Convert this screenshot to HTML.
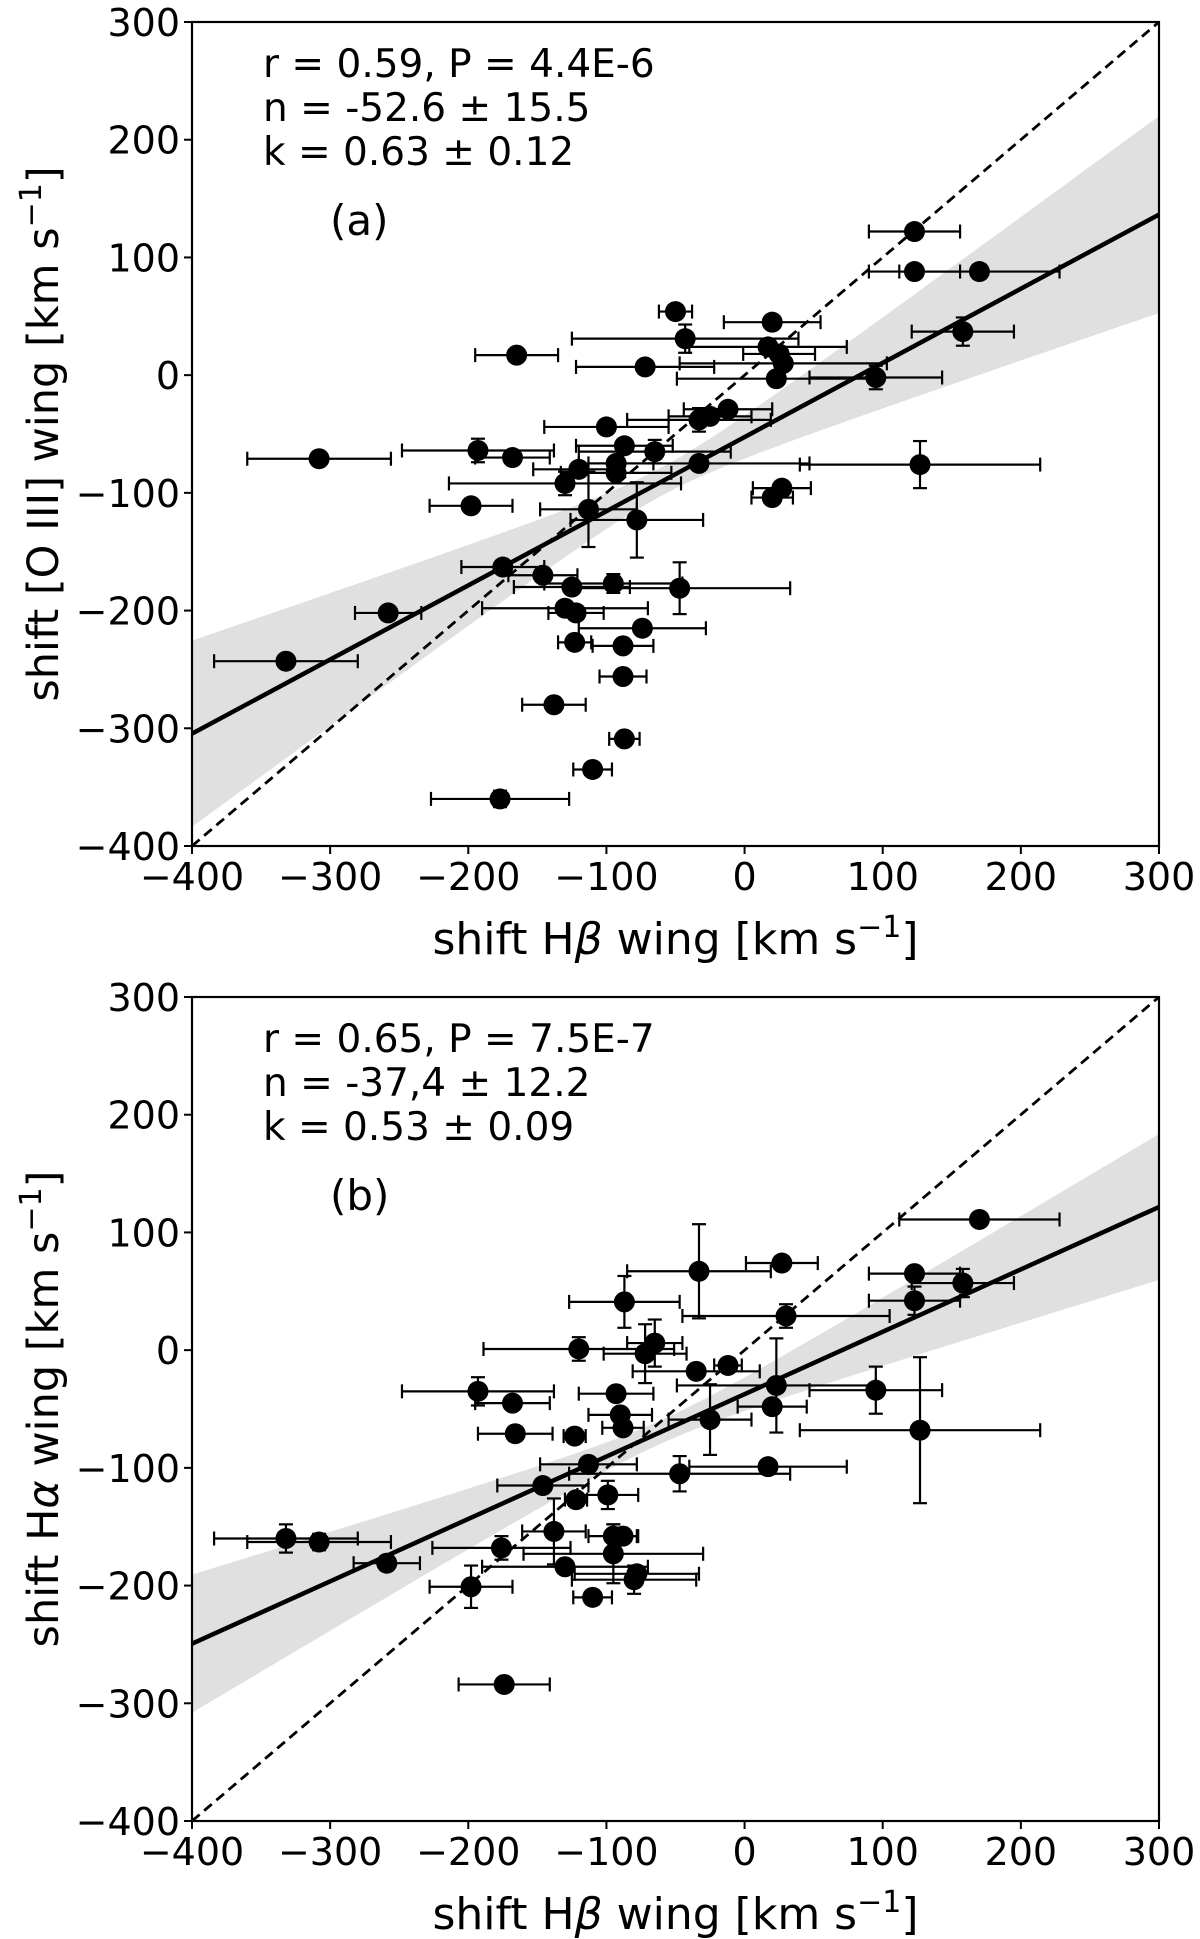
<!DOCTYPE html>
<html><head><meta charset="utf-8">
<style>
html,body{margin:0;padding:0;background:#fff;}
svg{display:block;font-family:"DejaVu Sans","Liberation Sans",sans-serif;}
</style></head>
<body>
<svg id="fig" width="1200" height="1939" viewBox="0 0 1200 1939" xmlns="http://www.w3.org/2000/svg"></svg>
<script>
// ---- Panel (a) data: Hβ wing shift vs [O III] wing shift ----
const aX    = [123,123,170,-50,20,-43,17,25,28,-165,-72,158,95,23,-12,-25,-33,-100,-87,-65,-193,-168,-308,-120,-93,-93,-33,-130,-198,127,27,20,-113,-78,-175,-146,-125,-95,-47,-130,-122,-74,-123,-88,-88,-138,-87,-110,-177,-332,-258];
const aY    = [122,88,88,54,45,31,24,18,10,17,7,37,-2,-3,-29,-35,-38,-44,-60,-65,-64,-70,-71,-80,-75,-83,-75,-92,-111,-76,-96,-104,-114,-123,-163,-170,-180,-177,-181,-198,-202,-215,-227,-230,-256,-280,-309,-335,-360,-243,-202];
const aXerr = [33,33,58,12,35,82,57,26,75,30,50,37,48,72,32,30,52,45,35,55,55,27,52,33,27,40,80,84,30,87,21,15,35,48,30,25,42,50,80,60,20,46,12,22,17,23,11,14,50,52,24];
const aYerr = [0,0,6,0,5,12,0,0,0,0,0,12,10,0,0,0,10,0,0,10,10,0,0,0,0,0,0,10,0,20,0,0,32,32,0,0,0,8,22,0,0,0,0,0,0,6,0,0,7,0,0];
// ---- Panel (b) data: Hβ wing shift vs Hα wing shift ----
const bX    = [170,27,-33,123,158,123,-87,30,-120,-65,-72,-35,-12,-193,-168,-93,23,95,-90,-88,20,-25,-166,-123,127,-113,17,-47,-146,-122,-99,-138,-332,-308,-95,-88,-176,-95,-259,-130,-78,-80,-198,-110,-174];
const bY    = [111,74,67,65,57,42,41,29,1,6,-3,-18,-13,-35,-45,-37,-30,-34,-55,-66,-48,-59,-71,-73,-68,-97,-99,-105,-115,-127,-123,-154,-160,-163,-158,-158,-168,-173,-181,-184,-190,-195,-201,-210,-284];
const bXerr = [58,26,52,33,37,33,40,75,69,20,30,46,10,55,27,27,72,48,23,15,25,30,27,8,87,35,57,80,33,8,22,23,52,52,18,10,50,65,24,60,45,45,30,14,33];
const bYerr = [0,0,40,0,12,12,22,10,10,20,25,0,0,12,0,0,40,20,0,0,0,30,6,0,62,0,0,15,0,0,12,28,12,7,10,0,10,25,6,0,0,12,18,6,0];
// fit parameters (intercept n, slope k) as printed
const fitA = [-52.6, 0.63];
const fitB = [-37.4, 0.53];
const ticks = [-400,-300,-200,-100,0,100,200,300];
const tickLabels = ["\u2212400","\u2212300","\u2212200","\u2212100","0","100","200","300"];
const annA = ["r = 0.59, P = 4.4E-6","n = -52.6 \u00b1 15.5","k = 0.63 \u00b1 0.12"];
const annB = ["r = 0.65, P = 7.5E-7","n = -37,4 \u00b1 12.2","k = 0.53 \u00b1 0.09"];

const NS="http://www.w3.org/2000/svg";
const svg=document.getElementById('fig');
function mk(tag,attrs,parent){const e=document.createElementNS(NS,tag);for(const k in attrs)e.setAttribute(k,attrs[k]);(parent||svg).appendChild(e);return e;}

function panel(cfg){
  const L=192,R=1159,T=cfg.top,B=cfg.top+824;
  const sx=v=>L+(v+400)/700*(R-L);
  const sy=v=>B-(v+400)/700*(B-T);
  const g=mk('g',{});
  
  
  const cp=mk('clipPath',{id:'cp'+cfg.id},g);
  mk('rect',{x:L,y:T,width:R-L,height:B-T},cp);
  const plot=mk('g',{'clip-path':'url(#cp'+cfg.id+')'},g);
  const [n,k]=cfg.fit;
  let up=[],lo=[];
  for(let x=-400;x<=300;x+=10){
    const w=Math.sqrt(cfg.ba*cfg.ba+cfg.bb*cfg.bb*(x-cfg.x0)*(x-cfg.x0));
    const y=n+k*x;
    up.push(sx(x)+','+sy(y+w));lo.unshift(sx(x)+','+sy(y-w));
  }
  const band=mk('polygon',{points:up.concat(lo).join(' '),fill:'#e0e0e0'},plot);
  
  
  const id=mk('line',{x1:sx(-400),y1:sy(-400),x2:sx(300),y2:sy(300),stroke:'#000','stroke-width':2.8,'stroke-dasharray':'10,6'},plot);
  
  
  const fl=mk('line',{x1:sx(-400),y1:sy(n+k*-400),x2:sx(300),y2:sy(n+k*300),stroke:'#000','stroke-width':4.5},plot);
  
  
  for(let i=0;i<cfg.X.length;i++){
    const pg=mk('g',{stroke:'#000','stroke-width':2.2},plot);
    
    
    const x=cfg.X[i],y=cfg.Y[i],xe=cfg.XE[i],ye=cfg.YE[i];
    const cy=sy(y),cx=sx(x);
    if(xe>0){
      mk('line',{x1:sx(x-xe),y1:cy,x2:sx(x+xe),y2:cy},pg);
      mk('line',{x1:sx(x-xe),y1:cy-7,x2:sx(x-xe),y2:cy+7},pg);
      mk('line',{x1:sx(x+xe),y1:cy-7,x2:sx(x+xe),y2:cy+7},pg);
    }
    if(ye>0){
      mk('line',{x1:cx,y1:sy(y-ye),x2:cx,y2:sy(y+ye)},pg);
      mk('line',{x1:cx-7,y1:sy(y-ye),x2:cx+7,y2:sy(y-ye)},pg);
      mk('line',{x1:cx-7,y1:sy(y+ye),x2:cx+7,y2:sy(y+ye)},pg);
    }
    mk('circle',{cx:cx,cy:cy,r:10.5,fill:'#000',stroke:'none'},pg);
  }
  const fr=mk('rect',{x:L,y:T,width:R-L,height:B-T,fill:'none',stroke:'#000','stroke-width':2.2},g);
  
  
  for(let i=0;i<ticks.length;i++){
    const v=ticks[i];
    mk('line',{x1:sx(v),y1:B,x2:sx(v),y2:B+8,stroke:'#000','stroke-width':2},g);
    const tx=mk('text',{x:sx(v),y:B+44,'text-anchor':'middle','font-size':38},g);
    tx.textContent=tickLabels[i];
    
    
    mk('line',{x1:L-8,y1:sy(v),x2:L,y2:sy(v),stroke:'#000','stroke-width':2},g);
    const ty=mk('text',{x:L-12,y:sy(v)+14,'text-anchor':'end','font-size':38},g);
    ty.textContent=tickLabels[i];
    
    
  }
  const xl=mk('text',{x:(L+R)/2,y:B+108,'text-anchor':'middle','font-size':44},g);
  xl.innerHTML='shift H<tspan font-style="italic">β</tspan> wing [km s<tspan dy="-17" font-size="30">−1</tspan><tspan dy="17">]</tspan>';
  
  
  const yl=mk('text',{x:0,y:0,'text-anchor':'middle','font-size':43,transform:'translate(58,'+((T+B)/2)+') rotate(-90)'},g);
  yl.innerHTML=cfg.ylabel;
  
  
  for(let i=0;i<cfg.ann.length;i++){
    const t=mk('text',{x:263,y:T+55+i*44,'font-size':39},g);
    t.textContent=cfg.ann[i];
    
    
  }
  const pl=mk('text',{x:330,y:T+213,'font-size':42},g);
  pl.textContent=cfg.label;
  
  
}
panel({id:'a',name:'panel-a',top:22,X:aX,Y:aY,XE:aXerr,YE:aYerr,fit:fitA,ba:12,bb:0.23,x0:-60,
  ylabel:'shift [O III] wing [km s<tspan dy="-17" font-size="30">−1</tspan><tspan dy="17">]</tspan>',ann:annA,label:'(a)'});
panel({id:'b',name:'panel-b',top:997,X:bX,Y:bY,XE:bXerr,YE:bYerr,fit:fitB,ba:10,bb:0.17,x0:-60,
  ylabel:'shift H<tspan font-style="italic">α</tspan> wing [km s<tspan dy="-17" font-size="30">−1</tspan><tspan dy="17">]</tspan>',ann:annB,label:'(b)'});
</script>
</body></html>
